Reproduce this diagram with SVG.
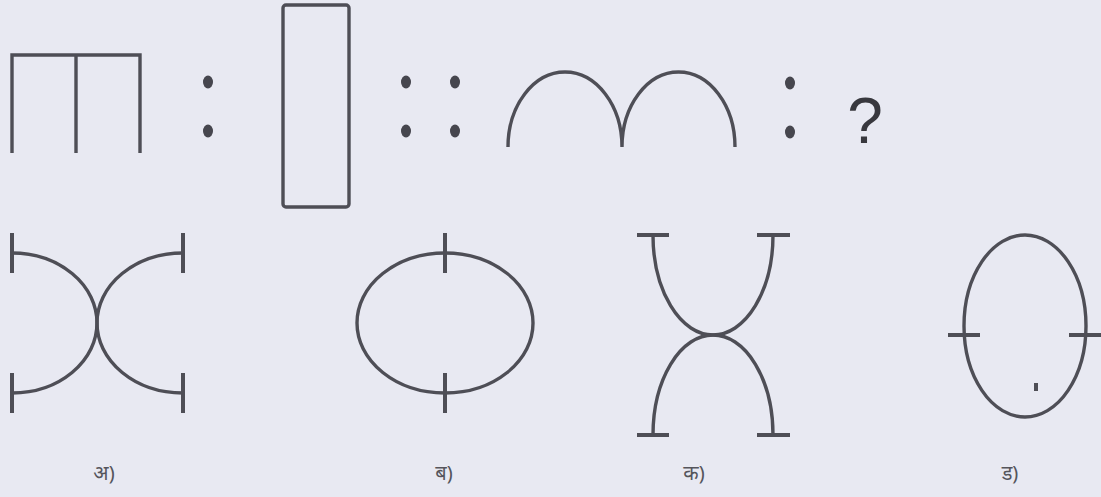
<svg xmlns="http://www.w3.org/2000/svg" width="1101" height="497" viewBox="0 0 1101 497">
  <style>
    .ln { fill: none; stroke: #4e4e56; stroke-width: 3.4; stroke-linecap: butt; }
    .tk { fill: none; stroke: #4e4e56; stroke-width: 4; }
    .dot { fill: #46464e; }
    .lbl { font-family: "Noto Sans", "Liberation Sans", sans-serif; font-size: 20px; fill: #55555c; text-anchor: middle; }
    .q { font-family: "Liberation Sans", Arial, sans-serif; font-size: 64px; fill: #38383e; text-anchor: middle; }
  </style>
  <rect x="0" y="0" width="1101" height="497" fill="#e8e9f2"/>

  <g id="comb">
    <path class="ln" d="M12 153 V55 H140 V153 M76 55 V153"/>
  </g>
  <g id="colon1">
    <ellipse class="dot" cx="208" cy="82" rx="5" ry="6.5"/>
    <ellipse class="dot" cx="208" cy="131" rx="5" ry="6.5"/>
  </g>
  <g id="tall-rect">
    <rect class="ln" x="283" y="5" width="66" height="202" rx="3"/>
  </g>
  <g id="double-colon">
    <ellipse class="dot" cx="406" cy="82" rx="5" ry="6.5"/>
    <ellipse class="dot" cx="406" cy="131" rx="5" ry="6.5"/>
    <ellipse class="dot" cx="455" cy="82" rx="5" ry="6.5"/>
    <ellipse class="dot" cx="455" cy="131" rx="5" ry="6.5"/>
  </g>
  <g id="double-arch">
    <path class="ln" d="M508 147 A57 75 0 0 1 622 147 A56.5 75 0 0 1 735 147"/>
  </g>
  <g id="colon2">
    <ellipse class="dot" cx="790" cy="83" rx="5" ry="6.5"/>
    <ellipse class="dot" cx="790" cy="132" rx="5" ry="6.5"/>
  </g>
  <g id="question">
    <text class="q" x="865" y="143">?</text>
  </g>

  <g id="option-a">
    <path class="ln" d="M12 253 A85 70 0 0 1 12 393"/>
    <path class="ln" d="M183 253 A86 70 0 0 0 183 393"/>
    <path class="tk" d="M12 233 V273 M12 373 V413 M183 233 V273 M183 373 V413"/>
    <text class="lbl" x="104" y="480">अ)</text>
  </g>
  <g id="option-b">
    <ellipse class="ln" cx="445" cy="323" rx="88" ry="70"/>
    <path class="tk" d="M445 233 V273 M445 373 V413"/>
    <text class="lbl" x="444" y="480">ब)</text>
  </g>
  <g id="option-c">
    <path class="ln" d="M653 235 A60 100 0 0 0 773 235"/>
    <path class="ln" d="M653 435 A60 100 0 0 1 773 435"/>
    <path class="tk" d="M637 235 H669 M757 235 H790 M637 435 H669 M757 435 H790"/>
    <text class="lbl" x="694" y="480">क)</text>
  </g>
  <g id="option-d">
    <ellipse class="ln" cx="1025" cy="326" rx="61" ry="91"/>
    <path class="tk" d="M948 335 H980 M1069 335 H1101"/>
    <path class="tk" d="M1036 383 V391" stroke-width="2.5"/>
    <text class="lbl" x="1010" y="480">ड)</text>
  </g>
</svg>
